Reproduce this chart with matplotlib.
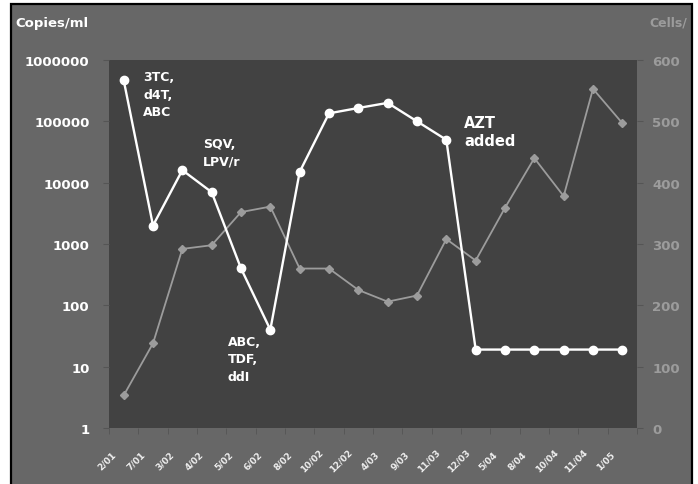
import matplotlib
matplotlib.use("Agg")
import matplotlib.pyplot as plt
from matplotlib.patches import Rectangle
from matplotlib.transforms import ScaledTranslation
import numpy as np

dates = ["2/01", "7/01", "3/02", "4/02", "5/02", "6/02", "8/02", "10/02", "12/02",
         "4/03", "9/03", "11/03", "12/03", "5/04", "8/04", "10/04", "11/04", "1/05"]
copies = [470000, 2000, 16000, 7000, 400, 40, 15000, 135000, 165000,
          200000, 100000, 50000, 19, 19, 19, 19, 19, 19]
cells = [53, 138, 292, 298, 352, 361, 260, 260, 225,
         206, 216, 308, 273, 359, 440, 378, 553, 497]
left_ticks = [1, 10, 100, 1000, 10000, 100000, 1000000]
right_ticks = [0, 100, 200, 300, 400, 500, 600]

BG = "#676767"
PLOT = "#424242"
GRAY = "#9c9c9c"
FONT = "DejaVu Sans"

fig = plt.figure(figsize=(6.98, 4.85), dpi=100)
fig.patch.set_facecolor("white")
W, H = 698, 485
fig.patches.append(Rectangle((11 / W, -0.01), (692 - 11) / W, (H - 5) / H + 0.01,
                             transform=fig.transFigure, facecolor=BG,
                             edgecolor="black", linewidth=1.6, zorder=0))

ax = fig.add_axes([109 / W, 1 - 429 / H, (637 - 109) / W, (429 - 61) / H])
ax2 = ax.twinx()
ax.set_zorder(2)
ax2.set_zorder(1)
ax.patch.set_visible(False)
ax2.patch.set_visible(True)
ax2.patch.set_facecolor(PLOT)

x = np.arange(len(dates))

ax2.plot(x, cells, color=GRAY, lw=1.3, marker="D", ms=4.5, mfc=GRAY, mec=GRAY)
ax.plot(x, copies, color="white", lw=1.7, marker="o", ms=6, mfc="white", mec="white")

ax.set_yscale("log")
ax.set_ylim(1, 1000000)
ax.set_yticks(left_ticks)
ax.set_yticklabels([str(v) for v in left_ticks])
ax.yaxis.set_minor_locator(matplotlib.ticker.NullLocator())
ax2.set_ylim(0, 600)
ax2.set_yticks(right_ticks)
ax2.set_yticklabels([str(v) for v in right_ticks])
ax.set_xlim(-0.5, len(dates) - 0.5)

for a in (ax, ax2):
    for s in a.spines.values():
        s.set_visible(False)

ax.tick_params(axis="y", which="major", length=4, color="#555555", pad=10,
               labelsize=9.5, labelcolor="white")
for lab in ax.get_yticklabels():
    lab.set_fontweight("bold")
    lab.set_family(FONT)
ax2.tick_params(axis="y", which="major", length=4, color="#555555", pad=7,
                labelsize=9.5, labelcolor=GRAY)
for lab in ax2.get_yticklabels():
    lab.set_fontweight("bold")
    lab.set_family(FONT)

# x: labels at category centres, marks at boundaries
ax.set_xticks(x)
ax.set_xticklabels(dates)
ax.set_xticks(np.arange(-0.5, len(dates) + 0.5, 1), minor=True)
ax.tick_params(axis="x", which="major", length=0, labelsize=6.5, labelcolor="#eeeeee")
ax.tick_params(axis="x", which="minor", length=4, color="#555555")
off = ScaledTranslation(-0.17, -0.27, fig.dpi_scale_trans)
for lab in ax.get_xticklabels():
    lab.set_rotation(45)
    lab.set_rotation_mode("anchor")
    lab.set_ha("center")
    lab.set_va("center")
    lab.set_fontweight("bold")
    lab.set_family(FONT)
    lab.set_transform(lab.get_transform() + off)

# annotations
ann_kw = dict(color="white", fontweight="bold", family=FONT, ha="left", va="top")
ax.text(0.66, 10 ** 5.83, "3TC,\nd4T,\nABC", fontsize=9, linespacing=1.45, **ann_kw)
ax.text(2.7, 10 ** 4.74, "SQV,\nLPV/r", fontsize=9, linespacing=1.45, **ann_kw)
ax.text(3.55, 10 ** 1.52, "ABC,\nTDF,\nddI", fontsize=9, linespacing=1.45, **ann_kw)
ax.text(11.6, 10 ** 5.1, "AZT\nadded", fontsize=10.5, linespacing=1.25, **ann_kw)

fig.text(15 / W, 1 - 27 / H, "Copies/ml", color="white", fontsize=9.5,
         fontweight="bold", family=FONT, ha="left", va="baseline")
fig.text(649 / W, 1 - 27 / H, "Cells/", color=GRAY, fontsize=9,
         fontweight="bold", family=FONT, ha="left", va="baseline", zorder=1)

fig.savefig("out.png", dpi=100, facecolor=fig.get_facecolor())
